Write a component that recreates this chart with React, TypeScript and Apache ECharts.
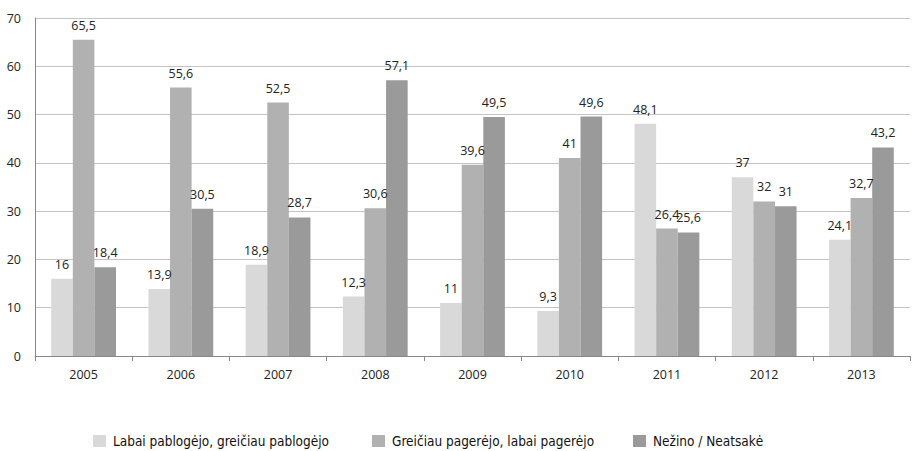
import React, { useEffect, useRef } from "react";
import * as echarts from "echarts";

const categories = ["2005", "2006", "2007", "2008", "2009", "2010", "2011", "2012", "2013"];
const seriesNames = [
  "Labai pablogėjo, greičiau pablogėjo",
  "Greičiau pagerėjo, labai pagerėjo",
  "Nežino / Neatsakė",
];
const worse = [16, 13.9, 18.9, 12.3, 11, 9.3, 48.1, 37, 24.1];
const better = [65.5, 55.6, 52.5, 30.6, 39.6, 41, 26.4, 32, 32.7];
const unknown = [18.4, 30.5, 28.7, 57.1, 49.5, 49.6, 25.6, 31, 43.2];
const colors = ["#d9d9da", "#b1b1b2", "#9a9a9b"];

export default function App() {
  const ref = useRef<HTMLDivElement>(null);
  useEffect(() => {
    document.body.style.margin = "0";
    const chart = echarts.init(ref.current!, null, { renderer: "svg" });
    const labelFont = "Open Sans, sans-serif";
    const mk = (name: string, data: number[], color: string) => ({
      name,
      type: "bar",
      data,
      barWidth: 21.6,
      barGap: "0%",
      itemStyle: { color },
      label: {
        show: true,
        position: "top",
        distance: 8,
        color: "#222",
        fontFamily: labelFont,
        fontSize: 12.5,
        formatter: (p: any) => String(p.value).replace(".", ","),
      },
    });
    const legendLefts = [93, 372, 633];
    chart.setOption({
      animation: false,
      grid: { left: 35, right: 3, top: 18, bottom: 95 },
      xAxis: {
        type: "category",
        data: categories,
        axisLine: { lineStyle: { color: "#888" } },
        axisTick: { show: true, length: 5, lineStyle: { color: "#888" } },
        axisLabel: { color: "#222", fontFamily: labelFont, fontSize: 12.5, margin: 12 },
      },
      yAxis: {
        type: "value",
        min: 0,
        max: 70,
        interval: 10,
        axisLine: { show: true, lineStyle: { color: "#888" } },
        axisTick: { show: false },
        splitLine: { lineStyle: { color: "#c4c4c4" } },
        axisLabel: { color: "#222", fontFamily: labelFont, fontSize: 12.5, margin: 14 },
      },
      legend: seriesNames.map((n, i) => ({
        left: legendLefts[i],
        top: 434,
        padding: 0,
        itemWidth: 13,
        itemHeight: 12,
        itemGap: 0,
        icon: "rect",
        textStyle: {
          fontFamily: "Liberation Sans Narrow, DejaVu Sans Condensed, sans-serif",
          fontSize: 13.5,
          color: "#111",
          padding: [0, 0, 0, 2],
        },
        data: [n],
      })),
      series: [
        mk(seriesNames[0], worse, colors[0]),
        mk(seriesNames[1], better, colors[1]),
        mk(seriesNames[2], unknown, colors[2]),
      ],
    });
    return () => chart.dispose();
  }, []);
  return <div ref={ref} style={{ width: 913, height: 451 }} />;
}
